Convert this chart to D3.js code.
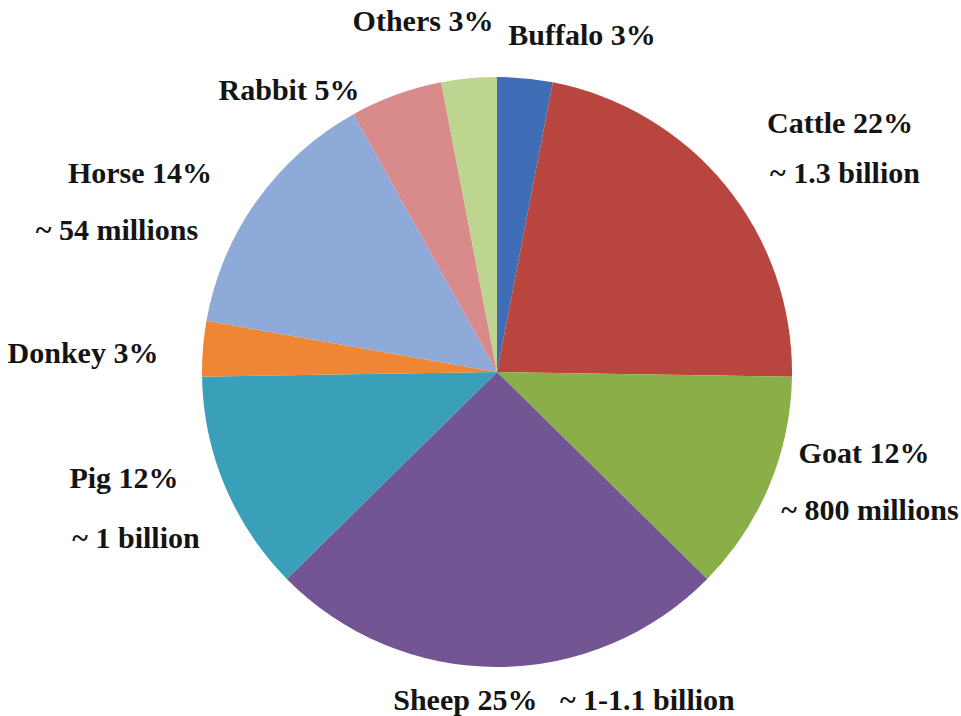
<!DOCTYPE html>
<html>
<head>
<meta charset="utf-8">
<script src="https://cdn.jsdelivr.net/npm/d3@7"></script>
<style>
  html, body { margin: 0; padding: 0; background: #ffffff; }
  svg { display: block; }
  .lbl { font-family: "Liberation Serif", "Times New Roman", serif; font-weight: bold; font-size: 30px; fill: #141414; white-space: pre; }
</style>
</head>
<body>
<svg id="chart" width="961" height="716"></svg>
<script>
// Livestock population shares, clockwise from 12 o'clock
const categories = ["Buffalo", "Cattle", "Goat", "Sheep", "Pig", "Donkey", "Horse", "Rabbit", "Others"];
const shares     = [3, 22, 12, 25, 12, 3, 14, 5, 3];
const headcounts = ["", "~ 1.3 billion", "~ 800 millions", "~ 1-1.1 billion", "~ 1 billion", "", "~ 54 millions", "", ""];
const sliceColors = ["#3e6db5", "#b8463f", "#8aaf48", "#735593", "#3a9fb8", "#ee8634", "#8eaad9", "#d98a8a", "#bcd68f"];

// Label placement (centre x, baseline y of first line; second line offset)
const labelAnchors = [
  { x: 582, y: 45 },
  { x: 840, y: 133, dy: 50, dx: 5 },
  { x: 864, y: 463, dy: 57, dx: 6 },
  { x: 564, y: 710, inline: true },
  { x: 124, y: 488, dy: 60, dx: 12 },
  { x: 83,  y: 363 },
  { x: 140, y: 183, dy: 57, dx: -23 },
  { x: 289, y: 100 },
  { x: 423, y: 31 }
];

const svg = d3.select("#chart");
const cx = 497, cy = 372, radius = 295;

const data = categories.map((c, i) => ({ name: c, share: shares[i], count: headcounts[i], color: sliceColors[i], pos: labelAnchors[i] }));

const pie = d3.pie().sort(null).value(d => d.share);
const arc = d3.arc().innerRadius(0).outerRadius(radius);

const g = svg.append("g").attr("transform", `translate(${cx},${cy})`);
g.selectAll("path.slice")
  .data(pie(data))
  .join("path")
  .attr("class", "slice")
  .attr("d", arc)
  .attr("fill", d => d.data.color);

// Category labels
data.forEach(d => {
  const p = d.pos;
  const title = `${d.name} ${d.share}%`;
  if (p.inline) {
    svg.append("text").attr("class", "lbl")
      .attr("x", p.x).attr("y", p.y).attr("text-anchor", "middle")
      .text(`${title}   ${d.count}`);
  } else {
    svg.append("text").attr("class", "lbl")
      .attr("x", p.x).attr("y", p.y).attr("text-anchor", "middle")
      .text(title);
    if (d.count) {
      svg.append("text").attr("class", "lbl")
        .attr("x", p.x + (p.dx || 0)).attr("y", p.y + p.dy).attr("text-anchor", "middle")
        .text(d.count);
    }
  }
});
</script>
</body>
</html>
